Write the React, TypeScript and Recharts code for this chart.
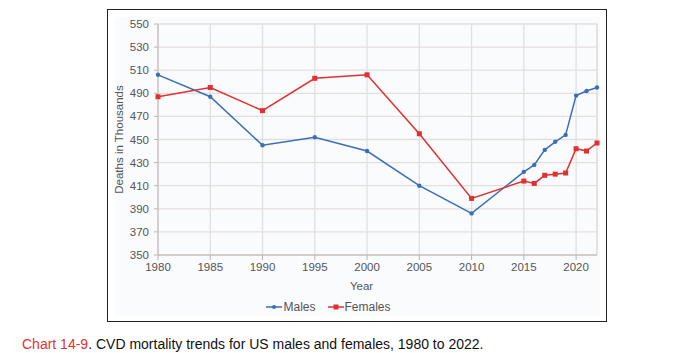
import { LineChart, Line, XAxis, YAxis, CartesianGrid, Legend, ReferenceLine } from 'recharts';

const years = [1980, 1985, 1990, 1995, 2000, 2005, 2010, 2015, 2016, 2017, 2018, 2019, 2020, 2021, 2022];
const males = [506, 487, 445, 452, 440, 410, 386, 422, 428, 441, 448, 454, 488, 492, 495];
const females = [487, 495, 475, 503, 506, 455, 399, 414, 412, 419, 420, 421, 442, 440, 447];

const xTicks = [1980, 1985, 1990, 1995, 2000, 2005, 2010, 2015, 2020];
const yTicks = [350, 370, 390, 410, 430, 450, 470, 490, 510, 530, 550];
// minor ticks: every year on x, every 4 on y
const xMinor = Array.from({ length: 43 }, (_, i) => 1980 + i);
const yMinor = Array.from({ length: 51 }, (_, i) => 350 + i * 4);

const data = years.map((year, i) => ({ year, males: males[i], females: females[i] }));

const BLUE = '#3a6fb6';
const RED = '#e0302f';
const GRID = '#e3dfdf';
const AXIS = '#bdb4b4';
const TEXT = '#555';
const FONT = '"Liberation Sans", Arial, sans-serif';

function SquareDot(props: any) {
  const { cx, cy, index } = props;
  return <rect key={`f-${index}`} x={cx - 2.5} y={cy - 2.5} width={5} height={5} fill={RED} />;
}

function RoundDot(props: any) {
  const { cx, cy, index } = props;
  return <circle key={`m-${index}`} cx={cx} cy={cy} r={2.2} fill={BLUE} />;
}

function LegendContent() {
  const item = (label: string, color: string, square: boolean) => (
    <span style={{ display: 'inline-flex', alignItems: 'center', marginRight: 12 }}>
      <svg width={16} height={8} style={{ marginRight: 1 }}>
        <line x1={0} y1={4} x2={16} y2={4} stroke={color} strokeWidth={1.5} />
        {square ? <rect x={5.5} y={1.5} width={5} height={5} fill={color} /> : <circle cx={8} cy={4} r={2} fill={color} />}
      </svg>
      {label}
    </span>
  );
  return (
    <div style={{ height: 20, display: 'flex', justifyContent: 'center', alignItems: 'center', fontFamily: FONT, fontSize: 12, color: TEXT, paddingRight: 36 }}>
      {item('Males', BLUE, false)}
      {item('Females', RED, true)}
    </div>
  );
}

export default function App() {
  return (
    <div style={{ position: 'absolute', left: 0, top: 0, width: 678, height: 353, background: '#fff', fontFamily: FONT }}>
      <div style={{ position: 'absolute', left: 107, top: 9, width: 498, height: 311, border: '1px solid #222' }}>
        <div style={{ position: 'absolute', left: 7, top: 7, width: 485, height: 299, background: '#fafbfd' }} />
        <div style={{ position: 'absolute', left: 0, top: 0 }}>
          <LineChart width={498} height={311} data={data} margin={{ top: 14, right: 9, bottom: 4, left: 0 }}>
            <CartesianGrid stroke={GRID} strokeWidth={1.3} />
            <XAxis xAxisId="minor" dataKey="year" type="number" domain={[1980, 2022]} ticks={xMinor} tick={false} height={0} tickSize={3} axisLine={false} tickLine={{ stroke: AXIS }} />
            <XAxis
              dataKey="year"
              type="number"
              domain={[1980, 2022]}
              ticks={xTicks}
              interval={0}
              height={42}
              tickSize={5}
              tickMargin={3}
              stroke={AXIS}
              tick={{ fill: TEXT, fontSize: 11.5, fontFamily: FONT }}
              label={{ value: 'Year', position: 'insideBottom', offset: 7, dx: -16, fill: TEXT, fontSize: 11.5, fontFamily: FONT }}
            />
            <YAxis yAxisId="minor" type="number" domain={[350, 550]} ticks={yMinor} tick={false} width={0} tickSize={3} axisLine={false} tickLine={{ stroke: AXIS }} />
            <YAxis
              type="number"
              domain={[350, 550]}
              ticks={yTicks}
              interval={0}
              width={50}
              tickSize={4}
              tickMargin={5}
              stroke={AXIS}
              tick={{ fill: TEXT, fontSize: 11.5, fontFamily: FONT }}
              label={{ value: 'Deaths in Thousands', angle: -90, position: 'insideLeft', offset: 11, fill: TEXT, fontSize: 11.5, fontFamily: FONT, style: { textAnchor: 'middle' } }}
            />
            <ReferenceLine x={2022} stroke={GRID} strokeWidth={1.3} />
            <Legend verticalAlign="bottom" content={<LegendContent />} />
            <Line dataKey="males" name="Males" stroke={BLUE} strokeWidth={1.5} dot={RoundDot} activeDot={false} isAnimationActive={false} />
            <Line dataKey="females" name="Females" stroke={RED} strokeWidth={1.5} dot={SquareDot} activeDot={false} isAnimationActive={false} />
          </LineChart>
        </div>
      </div>
      <div style={{ position: 'absolute', left: 22, top: 336, fontSize: 14, color: '#111', whiteSpace: 'nowrap' }}>
        <span style={{ color: '#e2332f' }}>Chart 14-9</span>. CVD mortality trends for US males and females, 1980 to 2022.
      </div>
    </div>
  );
}
